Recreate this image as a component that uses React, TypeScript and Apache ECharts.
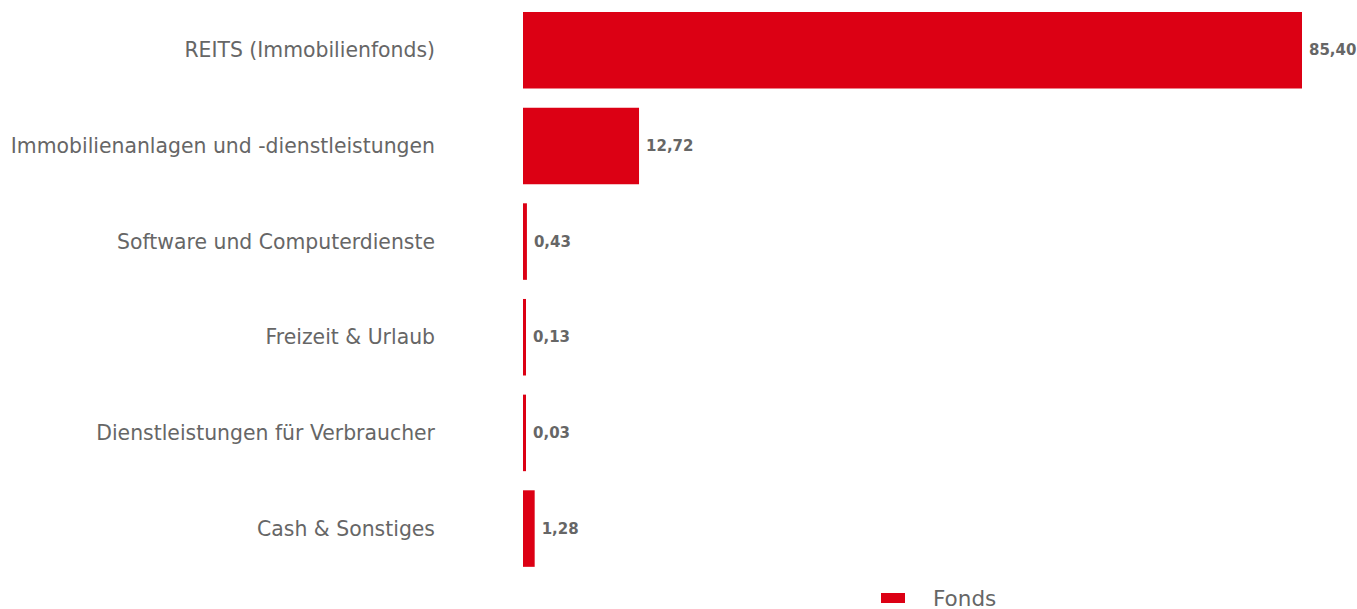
import React, { useEffect, useRef } from "react";
import * as echarts from "echarts";

const categories = [
  "REITS (Immobilienfonds)",
  "Immobilienanlagen und -dienstleistungen",
  "Software und Computerdienste",
  "Freizeit & Urlaub",
  "Dienstleistungen für Verbraucher",
  "Cash & Sonstiges",
];
const fondsValues = [85.4, 12.72, 0.43, 0.13, 0.03, 1.28];
const seriesName = "Fonds";

const RED = "#dc0014";
const GRAY = "#666666";
const FONT = "'DejaVu Sans', Verdana, sans-serif";

export default function App() {
  const ref = useRef<HTMLDivElement>(null);
  useEffect(() => {
    if (!ref.current) return;
    const chart = echarts.init(ref.current, undefined, { renderer: "svg" });
    chart.setOption({
      animation: false,
      grid: { left: 523, right: 55, top: 2.4, bottom: 32.6, containLabel: false },
      legend: {
        data: [seriesName],
        top: 587,
        left: 881,
        padding: 0,
        itemWidth: 24,
        itemHeight: 10,
        icon: "rect",
        textStyle: {
          color: GRAY,
          fontSize: 21.5,
          fontFamily: FONT,
          padding: [0, 0, 0, 23],
        },
      },
      xAxis: {
        type: "value",
        min: 0,
        max: 85.4,
        show: false,
      },
      yAxis: {
        type: "category",
        data: categories,
        inverse: true,
        axisLine: { show: false },
        axisTick: { show: false },
        axisLabel: {
          color: GRAY,
          fontSize: 20.4,
          fontFamily: FONT,
          margin: 88,
        },
      },
      series: [
        {
          name: seriesName,
          type: "bar",
          data: fondsValues,
          barCategoryGap: "20%",
          barMinHeight: 3,
          itemStyle: { color: RED },
          label: {
            show: true,
            position: "right",
            distance: 7,
            color: GRAY,
            fontSize: 15,
            fontWeight: "bold",
            fontFamily: FONT,
            formatter: (p: any) => Number(p.value).toFixed(2).replace(".", ","),
          },
        },
      ],
    });
    return () => chart.dispose();
  }, []);
  return <div ref={ref} style={{ width: 1357, height: 609, position: "absolute", left: 0, top: 0 }} />;
}
